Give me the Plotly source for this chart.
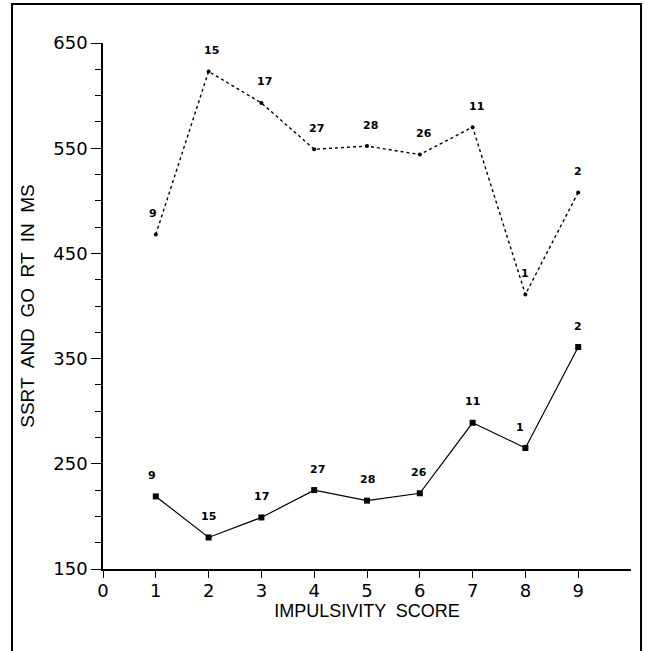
import plotly.graph_objects as go

scores = [1, 2, 3, 4, 5, 6, 7, 8, 9]
go_rt = [468, 623, 593, 549, 552, 544, 570, 411, 508]
ssrt = [219, 180, 199, 225, 215, 222, 289, 265, 361]
counts = ["9", "15", "17", "27", "28", "26", "11", "1", "2"]
x_ticks = [0, 1, 2, 3, 4, 5, 6, 7, 8, 9]
y_ticks = [150, 250, 350, 450, 550, 650]

go_xshift = [-3, 3, 3, 2, 3, 4, 4, 0, 0]
ss_xshift = [-4, 0, 0, 3, 0, -1, 0, -5, 0]

fig = go.Figure()
fig.add_trace(go.Scatter(
    x=scores, y=go_rt, mode="lines+markers",
    line=dict(color="black", width=1.4, dash="3px,3px"),
    marker=dict(symbol="circle", size=4, color="black"),
    showlegend=False, cliponaxis=False))
fig.add_trace(go.Scatter(
    x=scores, y=ssrt, mode="lines+markers",
    line=dict(color="black", width=1.2),
    marker=dict(symbol="square", size=6, color="black"),
    showlegend=False, cliponaxis=False))

label_font = dict(family="DejaVu Sans", size=11, color="black")
annotations = []
for xv, yv, t, dx in zip(scores, go_rt, counts, go_xshift):
    annotations.append(dict(x=xv, y=yv, text="<b>" + t + "</b>", showarrow=False,
                            xshift=dx, yshift=21, font=label_font))
for xv, yv, t, dx in zip(scores, ssrt, counts, ss_xshift):
    annotations.append(dict(x=xv, y=yv, text="<b>" + t + "</b>", showarrow=False,
                            xshift=dx, yshift=21, font=label_font))

fig.update_layout(
    width=652, height=651,
    margin=dict(l=103, r=21, t=43, b=82),
    paper_bgcolor="white", plot_bgcolor="white",
    font=dict(family="Liberation Sans", color="black"),
    xaxis=dict(range=[0, 10], tickvals=x_ticks, ticktext=[str(v) for v in x_ticks],
               showline=True, linecolor="black", linewidth=1.5,
               ticks="outside", ticklen=7, tickwidth=1.2, tickcolor="black",
               ticklabelstandoff=-2,
               showgrid=False, zeroline=False, automargin=False,
               tickfont=dict(size=18, family="DejaVu Sans", color="black"),
               title=dict(text="IMPULSIVITY  SCORE",
                          font=dict(size=18, family="Liberation Sans", color="black"),
                          standoff=2)),
    yaxis=dict(range=[150, 650], tickvals=y_ticks,
               showline=True, linecolor="black", linewidth=1.5,
               ticks="outside", ticklen=10, tickwidth=1.2, tickcolor="black",
               minor=dict(dtick=25, ticks="outside", ticklen=6, tickcolor="black", tickwidth=1),
               showgrid=False, zeroline=False, automargin=False,
               tickfont=dict(size=18, family="DejaVu Sans", color="black"),
               title=dict(text="SSRT  AND  GO  RT  IN  MS",
                          font=dict(size=19, family="Liberation Sans", color="black"),
                          standoff=14)),
    annotations=annotations,
    shapes=[dict(type="rect", xref="paper", yref="paper",
                 x0=-0.1723, x1=1.019, y0=-0.2, y1=1.074,
                 line=dict(color="black", width=2))],
)

fig.write_html("out.html", config={"displayModeBar": False},
               post_script="document.body.style.margin='0px';document.body.style.overflow='hidden';")
